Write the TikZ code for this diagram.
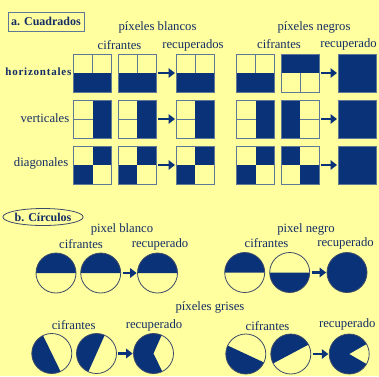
\documentclass[tikz,border=0pt]{standalone}
\usepackage{fontspec}
\setmainfont{Liberation Serif}
\usetikzlibrary{arrows.meta,shapes.geometric}
\definecolor{bg}{RGB}{255,255,160}
\definecolor{dk}{RGB}{10,50,120}
\definecolor{txt}{RGB}{20,45,100}
\definecolor{edge}{RGB}{95,120,150}
\definecolor{cedge}{RGB}{60,75,105}
\tikzset{
  sq/.style={draw=edge, line width=1pt, fill=bg, minimum size=38pt, inner sep=0pt},
  full/.style={sq, fill=dk},
  hwb/.style={sq, path picture={
     \fill[dk] (path picture bounding box.west) rectangle (path picture bounding box.south east);
     \draw[edge, line width=1pt] (path picture bounding box.north) -- (path picture bounding box.center);}},
  hbw/.style={sq, path picture={
     \fill[dk] (path picture bounding box.west) rectangle (path picture bounding box.north east);
     \draw[edge, line width=1pt] (path picture bounding box.south) -- (path picture bounding box.center);}},
  vwb/.style={sq, path picture={
     \fill[dk] (path picture bounding box.north) rectangle (path picture bounding box.south east);
     \draw[edge, line width=1pt] (path picture bounding box.west) -- (path picture bounding box.center);}},
  vbw/.style={sq, path picture={
     \fill[dk] (path picture bounding box.north) rectangle (path picture bounding box.south west);
     \draw[edge, line width=1pt] (path picture bounding box.east) -- (path picture bounding box.center);}},
  da/.style={sq, path picture={
     \fill[dk] (path picture bounding box.center) rectangle (path picture bounding box.north east);
     \fill[dk] (path picture bounding box.center) rectangle (path picture bounding box.south west);}},
  db/.style={sq, path picture={
     \fill[dk] (path picture bounding box.center) rectangle (path picture bounding box.north west);
     \fill[dk] (path picture bounding box.center) rectangle (path picture bounding box.south east);}},
  circ/.style={circle, draw=cedge, line width=0.8pt, fill=bg, minimum size=40pt, inner sep=0pt},
  halfc/.style 2 args={circ, path picture={
     \fill[dk] (path picture bounding box.center) ++(#1:21) arc[start angle=#1, end angle=#2, radius=21] -- cycle;}},
  wedgec/.style 2 args={circ, path picture={
     \fill[dk] (path picture bounding box.center) -- ++(#1:21) arc[start angle=#1, end angle=#2, radius=21] -- cycle;}},
  fullc/.style={circ, fill=dk},
  arr/.style={dk, line width=2.2pt, -{Triangle[length=6.5pt, width=9.5pt]}, shorten <=1.5pt, shorten >=0.5pt},
  lbl/.style={text=txt, font=\fontsize{12.7}{14}\selectfont, inner sep=0pt},
  rowlbl/.style={lbl, anchor=east},
  hd/.style={text=txt, font=\fontsize{12}{14}\selectfont\bfseries, inner sep=0pt},
}
\begin{document}
\begin{tikzpicture}[x=1pt, y=-1pt]
\fill[bg] (0,0) rectangle (379,376);
\useasboundingbox (0,0) rectangle (379,376);

% section a
\node[hd, draw=edge, line width=1pt, minimum width=76pt, minimum height=19pt] (ta) at (46,21.5) {a. Cuadrados};
\node[lbl] (pb) at (157.5,27) {píxeles blancos};
\node[lbl] (cfa) at (119.5,45) {cifrantes};
\node[lbl] (rca) at (193,45) {recuperados};
\node[lbl] (pn) at (314,27) {píxeles negros};
\node[lbl] (cfb) at (279,44) {cifrantes};
\node[lbl] (rcb) at (348.5,44) {recuperado};

\node[text=txt, font=\fontsize{11}{13}\selectfont\bfseries\addfontfeature{LetterSpace=7}, inner sep=0pt, anchor=east] (lh) at (71.5,72) {horizontales};
\node[rowlbl] (lv) at (69.5,118.5) {verticales};
\node[rowlbl] (ld) at (68.5,163) {diagonales};

% horizontal row
\node[hwb] (h1) at (92.5,73) {};
\node[hwb] (h2) at (137,73) {};
\node[hwb] (h3) at (195,73) {};
\node[hwb] (h4) at (255.5,73) {};
\node[hbw] (h5) at (300,73) {};
\node[full] (h6) at (357,73) {};
\draw[arr] (h2.east) -- (h3.west);
\draw[arr] (h5.east) -- (h6.west);

% vertical row
\node[vwb] (v1) at (92.5,119) {};
\node[vwb] (v2) at (137,119) {};
\node[vwb] (v3) at (195,119) {};
\node[vwb] (v4) at (255.5,119) {};
\node[vbw] (v5) at (300,119) {};
\node[full] (v6) at (357,119) {};
\draw[arr] (v2.east) -- (v3.west);
\draw[arr] (v5.east) -- (v6.west);

% diagonal row
\node[da] (d1) at (92.5,165) {};
\node[da] (d2) at (137,165) {};
\node[da] (d3) at (195,165) {};
\node[da] (d4) at (255.5,165) {};
\node[db] (d5) at (300,165) {};
\node[full] (d6) at (357,165) {};
\draw[arr] (d2.east) -- (d3.west);
\draw[arr] (d5.east) -- (d6.west);

% section b
\node[hd, ellipse, draw=cedge, line width=0.8pt, minimum width=70pt, minimum height=17pt, inner sep=0pt] (tb) at (43,217) {b. Círculos};
\node[lbl] (pbl) at (122,229) {pixel blanco};
\node[lbl] (cfc) at (81,244) {cifrantes};
\node[lbl] (rcc) at (160,244) {recuperado};
\node[lbl] (png) at (306,229) {pixel negro};
\node[lbl] (cfd) at (266.5,243) {cifrantes};
\node[lbl] (rcd) at (345.5,243) {recuperado};

\node[halfc={0}{-180}] (c1) at (56,273) {};
\node[halfc={0}{-180}] (c2) at (100.7,273) {};
\node[halfc={0}{-180}] (c3) at (157.5,273) {};
\draw[arr] (c2.east) -- (c3.west);

\node[halfc={0}{-180}] (c4) at (244.7,272.5) {};
\node[halfc={0}{180}] (c5) at (289.7,272.5) {};
\node[fullc] (c6) at (347,272.5) {};
\draw[arr] (c5.east) -- (c6.west);

\node[lbl] (pg) at (210,307.5) {píxeles grises};
\node[lbl] (cfe) at (73.7,325) {cifrantes};
\node[lbl] (rce) at (154,325) {recuperado};
\node[lbl] (cff) at (267.5,326) {cifrantes};
\node[lbl] (rcf) at (347.3,324) {recuperado};

\node[halfc={-116}{-296}] (g1) at (51.8,353.5) {};
\node[halfc={-66}{-246}] (g2) at (96.5,353.5) {};
\node[wedgec={-66}{-296}] (g3) at (153.5,353.5) {};
\draw[arr] (g2.east) -- (g3.west);

\node[halfc={-155}{-335}] (g4) at (245.8,354) {};
\node[halfc={-28}{-208}] (g5) at (290.8,354) {};
\node[wedgec={-30}{-330}] (g6) at (349.2,354) {};
\draw[arr] (g5.east) -- (g6.west);
\end{tikzpicture}
\end{document}
